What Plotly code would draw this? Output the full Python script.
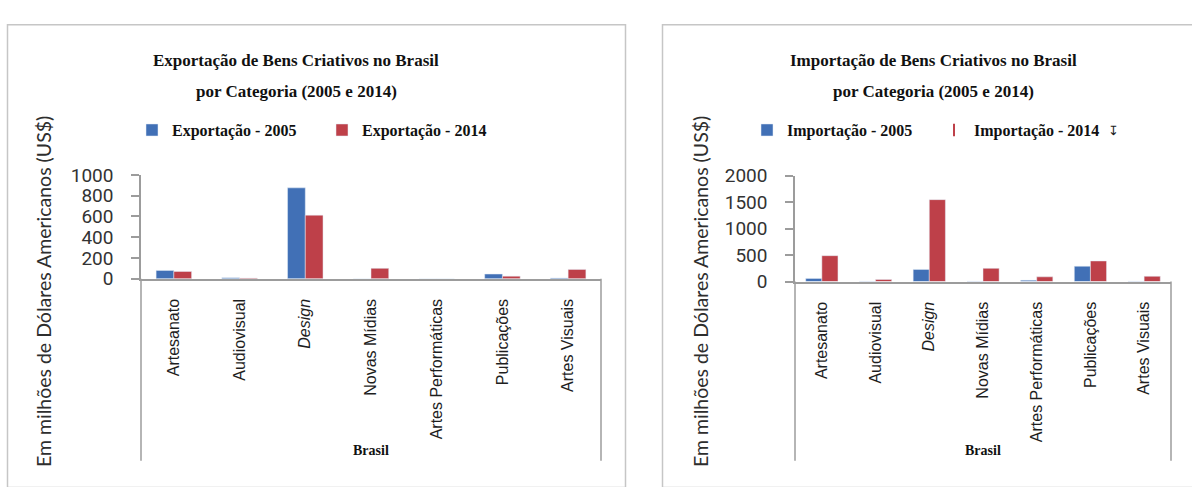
import plotly.graph_objects as go

# ---------------- data ----------------
categories = ["Artesanato", "Audiovisual", "Design", "Novas Mídias",
              "Artes Performáticas", "Publicações", "Artes Visuais"]
tick_labels = ["Artesanato", "Audiovisual", "<i>Design</i>", "Novas Mídias",
               "Artes Performáticas", "Publicações", "Artes Visuais"]
exp_2005 = [80, 10, 875, 0, 0, 45, 8]
exp_2014 = [70, 6, 612, 100, 0, 25, 90]
imp_2005 = [60, 5, 230, 5, 25, 290, 5]
imp_2014 = [490, 40, 1550, 250, 90, 390, 100]
exp_ticks = [0, 200, 400, 600, 800, 1000]
imp_ticks = [0, 500, 1000, 1500, 2000]

# ---------------- styling helpers ----------------
W, H = 1192, 487
def px(x):
    return x / W
def py(y):
    return 1 - y / H

BLUE = "#4170B6"
RED = "#BE4049"
AXIS = "#9c9c9c"
FRAME = "#c6c6c6"
SERIF = "Liberation Serif"
NARROW = "Liberation Sans Narrow, Arial Narrow, Liberation Sans"
SANS = "Lato"

fig = go.Figure()

# left chart (exports)
fig.add_trace(go.Bar(x=categories, y=exp_2005, name="Exportação - 2005",
                     marker_color=BLUE, width=0.27, offset=-0.27,
                     xaxis="x", yaxis="y", legend="legend"))
fig.add_trace(go.Bar(x=categories, y=exp_2014, name="Exportação - 2014",
                     marker_color=RED, width=0.27, offset=0,
                     xaxis="x", yaxis="y", legend="legend"))
# right chart (imports)
fig.add_trace(go.Bar(x=categories, y=imp_2005, name="Importação - 2005",
                     marker_color=BLUE, width=0.30, offset=-0.30,
                     xaxis="x2", yaxis="y2", legend="legend2"))
fig.add_trace(go.Bar(x=categories, y=imp_2014, name="Importação - 2014",
                     marker_color=RED, width=0.30, offset=0,
                     xaxis="x2", yaxis="y2", legend="legend2",
                     legendgroup="imp14", showlegend=False))
# legend entry drawn as a thin red stroke (as in the reference)
fig.add_trace(go.Scatter(x=[None], y=[None], mode="markers", name="Importação - 2014",
                         marker=dict(symbol="line-ns", size=9,
                                     line=dict(color=RED, width=2)),
                         xaxis="x2", yaxis="y2", legend="legend2",
                         legendgroup="imp14"))

xcommon = dict(type="category", tickvals=categories, ticktext=tick_labels,
               tickangle=-90, tickfont=dict(family=NARROW, size=16, color="#1e1e1e"),
               showline=True, linecolor=AXIS, linewidth=1.5, ticks="",
               showgrid=False, zeroline=False, ticklabelstandoff=12,
               fixedrange=True)
ycommon = dict(showline=True, linecolor=AXIS, linewidth=1.5, ticks="outside",
               ticklen=8, tickcolor=AXIS, tickwidth=1.5, showgrid=False,
               zeroline=False, tickfont=dict(family="Roboto", size=19, color="#333333"),
               ticklabelstandoff=14, fixedrange=True)

legend_font = dict(family=SERIF, size=16, color="#111111", weight="bold")
fig.update_layout(
    width=W, height=H,
    margin=dict(l=0, r=0, t=0, b=0),
    paper_bgcolor="white", plot_bgcolor="white",
    barmode="overlay",
    xaxis=dict(domain=[px(141), px(601)], anchor="y", **xcommon),
    yaxis=dict(domain=[py(281), py(172)], anchor="x", range=[0, 1000],
               tickvals=exp_ticks, **ycommon),
    xaxis2=dict(domain=[px(795), px(1171)], anchor="y2", **xcommon),
    yaxis2=dict(domain=[py(284), py(173)], anchor="x2", range=[0, 2000],
                tickvals=imp_ticks, **ycommon),
    legend=dict(orientation="h", x=px(132), y=py(125), xanchor="left", yanchor="middle",
                font=legend_font, bgcolor="rgba(0,0,0,0)",
                entrywidth=145, entrywidthmode="pixels"),
    legend2=dict(orientation="h", x=px(747), y=py(125), xanchor="left", yanchor="middle",
                 font=legend_font, bgcolor="rgba(0,0,0,0)",
                 entrywidth=142, entrywidthmode="pixels"),
)

shapes = [
    # panel frames
    dict(type="rect", xref="paper", yref="paper", x0=px(7.5), x1=px(625.5),
         y0=py(500), y1=py(14.5), line=dict(color=FRAME, width=1.5)),
    dict(type="rect", xref="paper", yref="paper", x0=px(662.5), x1=px(1210),
         y0=py(500), y1=py(14.5), line=dict(color=FRAME, width=1.5)),
]
# category-group ("Brasil") bracket lines below each x axis
for xr, yr, depth in (("x", "y", (472 - 281) / 109), ("x2", "y2", (472 - 284) / 111)):
    for xd in (0, 1):
        shapes.append(dict(type="line", xref=f"{xr} domain", yref=f"{yr} domain",
                           x0=xd, x1=xd, y0=-depth, y1=0,
                           line=dict(color=AXIS, width=1.5)))
fig.update_layout(shapes=shapes)

ann = []
title_font = dict(family=SERIF, size=17, color="#111111")
for cx, l1, l2 in ((296, "Exportação de Bens Criativos no Brasil", "por Categoria (2005 e 2014)"),
                   (933, "Importação de Bens Criativos no Brasil", "por Categoria (2005 e 2014)")):
    ann.append(dict(text=f"<b>{l1}</b>", x=px(cx), y=py(52), xref="paper", yref="paper",
                    xanchor="center", yanchor="middle", showarrow=False, font=title_font))
    ann.append(dict(text=f"<b>{l2}</b>", x=px(cx), y=py(85), xref="paper", yref="paper",
                    xanchor="center", yanchor="middle", showarrow=False, font=title_font))
for xr, ax_x in (("x", 43), ("x2", 700)):
    ann.append(dict(text="<b>Brasil</b>", x=0.5, xref=f"{xr} domain", y=py(461), yref="paper",
                    xanchor="center", yanchor="middle", showarrow=False,
                    font=dict(family=SERIF, size=14, color="#111111")))
    ann.append(dict(text="Em milhões de Dólares Americanos (US$)", textangle=-90,
                    x=px(ax_x), y=py(295), xref="paper", yref="paper",
                    xanchor="center", yanchor="middle", showarrow=False,
                    font=dict(family=SANS, size=19.5, color="#2e2e2e")))
ann.append(dict(text="↧", x=px(1113), y=py(125), xref="paper", yref="paper",
                xanchor="center", yanchor="middle", showarrow=False,
                font=dict(family="DejaVu Sans", size=13, color="#222222")))
fig.update_layout(annotations=ann)

fig.write_html("out.html")
